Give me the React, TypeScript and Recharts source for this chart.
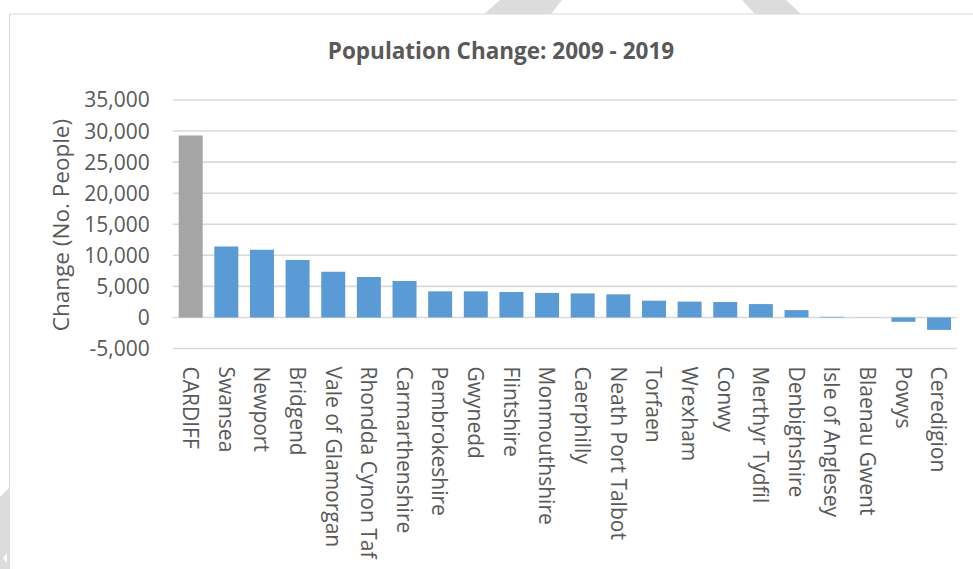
import React from 'react';
import { BarChart, Bar, XAxis, YAxis, CartesianGrid, Cell } from 'recharts';

const categories = [
  'CARDIFF', 'Swansea', 'Newport', 'Bridgend', 'Vale of Glamorgan', 'Rhondda Cynon Taf',
  'Carmarthenshire', 'Pembrokeshire', 'Gwynedd', 'Flintshire', 'Monmouthshire', 'Caerphilly',
  'Neath Port Talbot', 'Torfaen', 'Wrexham', 'Conwy', 'Merthyr Tydfil', 'Denbighshire',
  'Isle of Anglesey', 'Blaenau Gwent', 'Powys', 'Ceredigion',
];
const changes = [
  29300, 11400, 10900, 9250, 7350, 6500,
  5850, 4200, 4200, 4100, 3950, 3870,
  3720, 2700, 2550, 2480, 2150, 1180,
  100, -30, -700, -2000,
];
const yTicks = [-5000, 0, 5000, 10000, 15000, 20000, 25000, 30000, 35000];
const title = 'Population Change: 2009 - 2019';
const yLabel = 'Change (No. People)';
const highlighted = 'CARDIFF';

const data = categories.map((name, i) => ({ name, value: changes[i] }));

const TEXT = '#595959';
const BLUE = '#5B9BD5';
const GREY = '#A5A5A5';
const GRID = '#D9D9D9';
const FONT = '"Open Sans", sans-serif';

const XTick = (props: any) => {
  const { x, y, payload } = props;
  return (
    <g transform={`translate(${x},${y + 18})`}>
      <text transform="rotate(90)" x={0} y={0} dy="0.36em" textAnchor="start" fill={TEXT} fontSize={21} fontFamily={FONT}>
        {payload.value}
      </text>
    </g>
  );
};

export default function App() {
  return (
    <div style={{ position: 'absolute', left: 0, top: 0, width: 973, height: 569, background: '#fff', overflow: 'hidden' }}>
      <svg width={973} height={569} style={{ position: 'absolute', left: 0, top: 0 }}>
        <polygon points="500,0 562,0 551,14 484,14" fill="#DCDCDC" />
        <polygon points="742,0 786,0 801,14 755,14" fill="#DCDCDC" />
        <rect x={9.5} y={14} width={1000} height={600} fill="#fff" stroke={GRID} strokeWidth={1} />
        <polygon points="0,497 9,488 9,569 0,569" fill="#DCDCDC" />
        <polygon points="7,553 7,563 3,558" fill="#fff" />
        <text x={501} y={59} textAnchor="middle" fill={TEXT} fontSize={22.5} fontWeight="bold" fontFamily={FONT}>
          {title}
        </text>
        <text transform="translate(69,225) rotate(-90)" x={0} y={0} textAnchor="middle" fill={TEXT} fontSize={22.5} fontFamily={FONT}>
          {yLabel}
        </text>
      </svg>
      <div style={{ position: 'absolute', left: 0, top: 0 }}>
        <BarChart width={973} height={569} data={data} margin={{ top: 100, right: 16.3, bottom: 0, left: 0 }} barSize={24}>
          <CartesianGrid horizontal vertical={false} stroke={GRID} strokeWidth={1.6} />
          <XAxis
            dataKey="name"
            interval={0}
            height={220.5}
            axisLine={false}
            tickLine={false}
            tickSize={0}
            tickMargin={0}
            tick={<XTick />}
          />
          <YAxis
            width={172.7}
            domain={[-5000, 35000]}
            ticks={yTicks}
            axisLine={false}
            tickLine={false}
            tickSize={0}
            tickMargin={23}
            tickFormatter={(v: number) => v.toLocaleString('en-US')}
            tick={{ fill: TEXT, fontSize: 21, fontFamily: FONT }}
          />
          <Bar dataKey="value" isAnimationActive={false}>
            {data.map((d) => (
              <Cell key={d.name} fill={d.name === highlighted ? GREY : BLUE} />
            ))}
          </Bar>
        </BarChart>
      </div>
    </div>
  );
}
